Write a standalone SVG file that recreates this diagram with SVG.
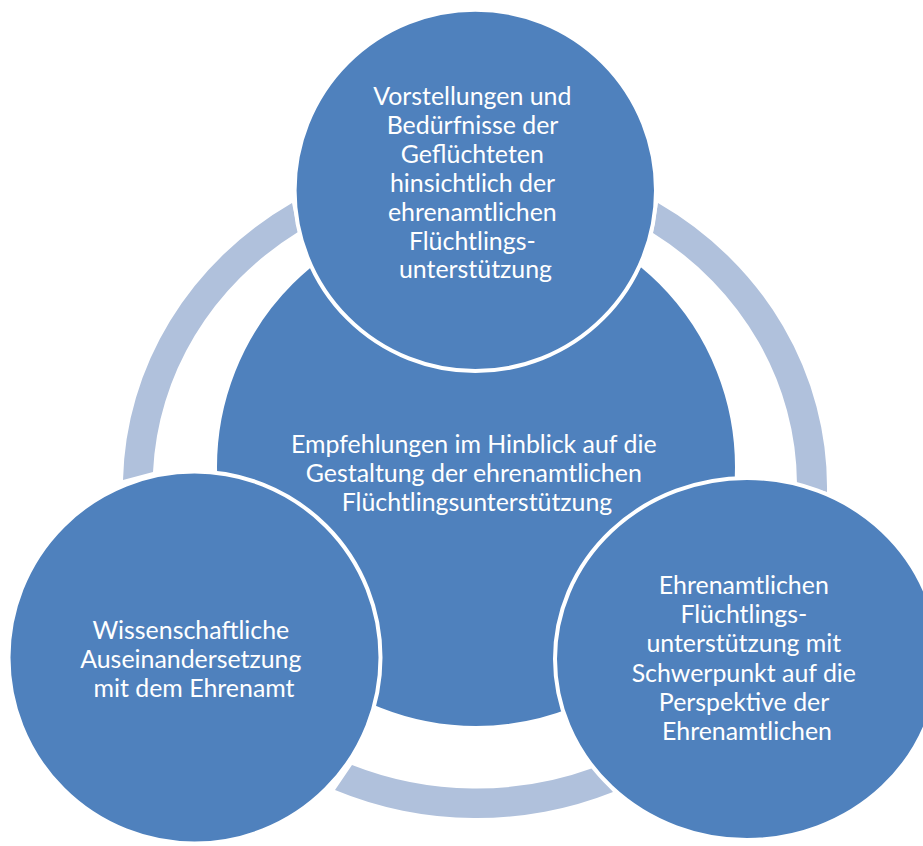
<svg xmlns="http://www.w3.org/2000/svg" width="923" height="846" viewBox="0 0 923 846">
  <style>
    .arc { fill: #B0C1DC; stroke: none; }
    .node { fill: #4F81BD; stroke: #FFFFFF; stroke-width: 4; }
    .label { fill: #FFFFFF; font-family: Lato, "Open Sans", sans-serif; font-size: 24.9px; text-anchor: middle; }
  </style>
  <rect width="923" height="846" fill="#FFFFFF"/>

  <!-- connecting ring segments -->
  <g id="connectors">
    <path class="arc" d="M 123,480 A 352 333 0 0 1 292,203 L 298,232 A 322 303 0 0 0 153,472 Z"/>
    <path class="arc" d="M 658,203 A 352 333 0 0 1 827,492 L 797,484 A 322 303 0 0 0 653,233 Z"/>
    <path class="arc" d="M 613,792 A 352 333 0 0 1 335,790 L 352,765 A 322 303 0 0 0 593,768 Z"/>
  </g>

  <g id="node-center">
    <circle class="node" cx="476" cy="467" r="261"/>
    <text class="label">
      <tspan x="477" y="452.5">Empfehlungen im Hinblick auf die</tspan>
      <tspan x="477" y="481.5">Gestaltung der ehrenamtlichen</tspan>
      <tspan x="477" y="510.5">Flüchtlingsunterstützung</tspan>
    </text>
  </g>

  <g id="node-top">
    <circle class="node" cx="475.3" cy="190.4" r="180.7"/>
    <text class="label">
      <tspan x="475.5" y="105">Vorstellungen und</tspan>
      <tspan x="475.5" y="134">Bedürfnisse der</tspan>
      <tspan x="475.5" y="163">Geflüchteten</tspan>
      <tspan x="475.5" y="191.5">hinsichtlich der</tspan>
      <tspan x="475.5" y="220.5">ehrenamtlichen</tspan>
      <tspan x="475.5" y="249.5">Flüchtlings-</tspan>
      <tspan x="475.5" y="278">unterstützung</tspan>
    </text>
  </g>

  <g id="node-left">
    <circle class="node" cx="194.5" cy="657.5" r="186"/>
    <text class="label">
      <tspan x="194" y="638.5">Wissenschaftliche</tspan>
      <tspan x="194" y="667.5">Auseinandersetzung</tspan>
      <tspan x="194" y="696.5">mit dem Ehrenamt</tspan>
    </text>
  </g>

  <g id="node-right">
    <ellipse class="node" cx="747" cy="659" rx="192" ry="181"/>
    <text class="label">
      <tspan x="747" y="594">Ehrenamtlichen</tspan>
      <tspan x="747" y="623">Flüchtlings-</tspan>
      <tspan x="747" y="652">unterstützung mit</tspan>
      <tspan x="747" y="681.5">Schwerpunkt auf die</tspan>
      <tspan x="747" y="710.5">Perspektive der</tspan>
      <tspan x="747" y="739.5">Ehrenamtlichen</tspan>
    </text>
  </g>
</svg>
